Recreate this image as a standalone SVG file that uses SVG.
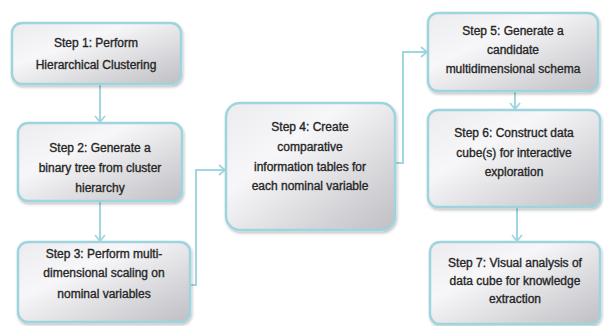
<svg xmlns="http://www.w3.org/2000/svg" width="604" height="326" viewBox="0 0 604 326">
<defs>
<linearGradient id="g" x1="0" y1="0" x2="1" y2="1">
<stop offset="0" stop-color="#ececef"/>
<stop offset="0.35" stop-color="#f7f7f9"/>
<stop offset="1" stop-color="#bfbfc4"/>
</linearGradient>
<filter id="sh" x="-10%" y="-10%" width="130%" height="130%">
<feGaussianBlur in="SourceAlpha" stdDeviation="1.5"/>
<feOffset dx="1" dy="2" result="b"/>
<feComponentTransfer><feFuncA type="linear" slope="0.25"/></feComponentTransfer>
<feMerge><feMergeNode/><feMergeNode in="SourceGraphic"/></feMerge>
</filter>
<marker id="ah" viewBox="0 0 8 12" refX="7" refY="6" markerWidth="8" markerHeight="12" markerUnits="userSpaceOnUse" orient="auto">
<path d="M1,1 L7,6 L1,11" fill="none" stroke="#9fd6e0" stroke-width="1.8"/>
</marker>
</defs>
<style>
.box{fill:url(#g);stroke:#9fd3de;stroke-width:2.5;filter:url(#sh)}
.t{font-family:"Liberation Sans",Arial,sans-serif;font-size:12px;fill:#262626;stroke:#262626;stroke-width:0.35;text-anchor:middle}
.c{fill:none;stroke:#9fd6e0;stroke-width:2;marker-end:url(#ah)}
</style>
<rect width="604" height="326" fill="#fff"/>
<g id="connectors">
<line class="c" x1="100" y1="85" x2="100" y2="122"/>
<line class="c" x1="100" y1="202" x2="100" y2="241"/>
<polyline class="c" points="190,285 196,285 196,170 225,170"/>
<polyline class="c" points="396,163 403,163 403,52 427,52"/>
<line class="c" x1="515" y1="92" x2="515" y2="109"/>
<line class="c" x1="517" y1="208" x2="517" y2="241"/>
</g>
<g id="step1">
<rect class="box" x="12" y="23" width="169" height="61" rx="10"/>
<text class="t" x="96" y="47">Step 1: Perform</text>
<text class="t" x="96" y="69">Hierarchical Clustering</text>
</g>
<g id="step2">
<rect class="box" x="18" y="123" width="164" height="78" rx="10"/>
<text class="t" x="100" y="152">Step 2: Generate a</text>
<text class="t" x="100" y="172">binary tree from cluster</text>
<text class="t" x="100" y="192">hierarchy</text>
</g>
<g id="step3">
<rect class="box" x="18" y="242" width="172" height="80" rx="10"/>
<text class="t" x="104" y="258">Step 3: Perform multi-</text>
<text class="t" x="104" y="277">dimensional scaling on</text>
<text class="t" x="104" y="298">nominal variables</text>
</g>
<g id="step4">
<rect class="box" x="226" y="103" width="169" height="127" rx="14"/>
<text class="t" x="310" y="131">Step 4: Create</text>
<text class="t" x="310" y="151">comparative</text>
<text class="t" x="310" y="171">information tables for</text>
<text class="t" x="310" y="190">each nominal variable</text>
</g>
<g id="step5">
<rect class="box" x="428" y="13" width="170" height="78" rx="10"/>
<text class="t" x="513" y="35">Step 5: Generate a</text>
<text class="t" x="513" y="54">candidate</text>
<text class="t" x="513" y="73">multidimensional schema</text>
</g>
<g id="step6">
<rect class="box" x="428" y="110" width="172" height="97" rx="10"/>
<text class="t" x="514" y="137">Step 6: Construct data</text>
<text class="t" x="514" y="157">cube(s) for interactive</text>
<text class="t" x="514" y="176">exploration</text>
</g>
<g id="step7">
<rect class="box" x="430" y="242" width="170" height="82" rx="10"/>
<text class="t" x="515" y="267">Step 7: Visual analysis of</text>
<text class="t" x="515" y="285">data cube for knowledge</text>
<text class="t" x="515" y="303">extraction</text>
</g>
</svg>
